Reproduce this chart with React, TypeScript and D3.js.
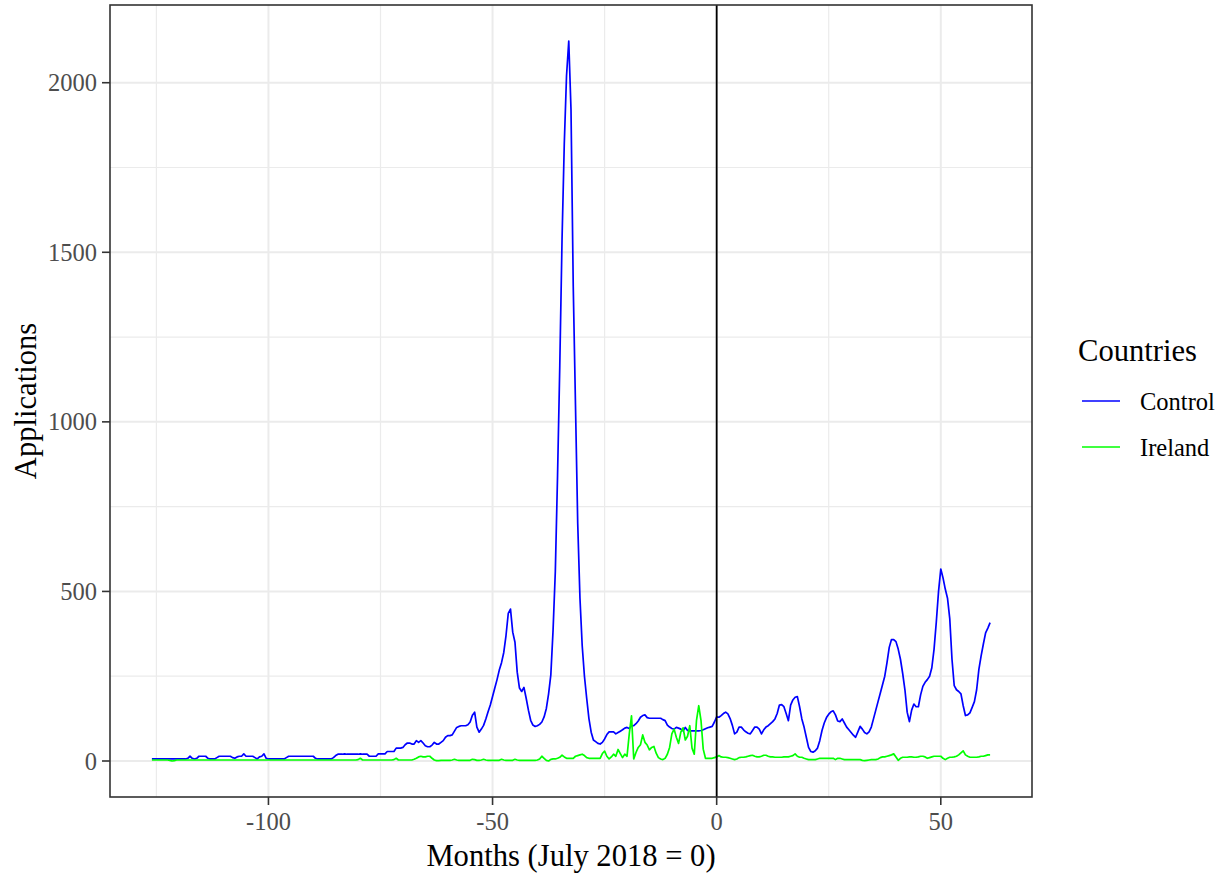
import React from "react";
import * as d3 from "d3";

// months run from -126 to 61 in half-month steps
const startMonth = -126;
const monthStep = 0.5;

const control = [
  6, 6, 6, 6, 6, 6, 6, 6, 6, 6, 6, 6, 6, 6, 6, 6, 8, 14, 8, 6,
  8, 14, 14, 14, 14, 8, 6, 6, 6, 10, 14, 14, 14, 14, 14, 14, 10, 8, 12, 14,
  14, 21, 14, 14, 14, 14, 10, 6, 12, 14, 21, 8, 6, 6, 6, 6, 6, 6, 6, 6,
  10, 14, 14, 14, 14, 14, 14, 14, 14, 14, 14, 14, 14, 8, 6, 6, 6, 6, 6, 6,
  6, 10, 16, 20, 20, 20, 21, 20, 20, 20, 20, 20, 20, 21, 20, 20, 20, 14, 14, 14,
  14, 21, 21, 21, 21, 28, 28, 28, 28, 38, 38, 38, 40, 48, 53, 53, 50, 50, 60, 55,
  60, 53, 45, 42, 42, 47, 55, 50, 50, 55, 60, 70, 75, 75, 77, 88, 99, 102, 104, 104,
  104, 107, 115, 135, 144, 100, 85, 94, 105, 124, 145, 165, 190, 215, 240, 268, 290, 320, 370, 435,
  448, 380, 350, 262, 215, 205, 217, 185, 150, 120, 106, 102, 104, 108, 115, 130, 155, 198, 254, 386,
  558, 842, 1167, 1537, 1819, 2020, 2123, 1921, 1400, 1050, 700, 480, 340, 250, 185, 125, 85, 62, 57, 52,
  50, 55, 65, 78, 86, 86, 86, 80, 84, 88, 92, 97, 99, 96, 104, 104, 110, 118, 129, 134,
  136, 128, 126, 126, 126, 126, 126, 126, 122, 119, 106, 100, 96, 94, 99, 97, 94, 89, 99, 90,
  89, 89, 89, 89, 89, 90, 92, 95, 98, 100, 102, 115, 130, 129, 134, 140, 144, 139, 125, 105,
  80, 85, 100, 100, 92, 86, 82, 80, 90, 100, 100, 94, 80, 92, 100, 104, 110, 116, 124, 140,
  165, 166, 160, 140, 119, 165, 180, 188, 190, 160, 124, 100, 70, 40, 28, 26, 30, 38, 60, 90,
  112, 128, 138, 145, 148, 136, 118, 116, 124, 112, 100, 92, 84, 76, 70, 86, 102, 94, 84, 80,
  86, 100, 125, 150, 175, 200, 225, 250, 290, 335, 358, 358, 352, 330, 300, 258, 210, 144, 116, 150,
  168, 160, 160, 195, 220, 232, 240, 250, 275, 330, 410, 500, 566, 540, 507, 480, 420, 300, 222, 210,
  205, 198, 163, 134, 136, 142, 158, 175, 210, 270, 310, 345, 378, 392, 408,
];

const ireland = [
  3, 3, 3, 3, 3, 3, 3, 3, 2, 0, 1, 3, 3, 3, 3, 3, 3, 3, 3, 3,
  3, 3, 3, 3, 3, 3, 3, 3, 3, 3, 3, 3, 3, 3, 3, 3, 3, 3, 3, 3,
  3, 3, 3, 3, 3, 3, 3, 3, 3, 3, 3, 3, 3, 3, 3, 3, 3, 3, 3, 3,
  3, 3, 3, 3, 3, 3, 3, 3, 3, 3, 3, 3, 3, 3, 3, 3, 3, 3, 3, 3,
  3, 3, 3, 3, 3, 3, 3, 3, 3, 3, 3, 3, 4, 8, 3, 3, 3, 3, 3, 3,
  3, 3, 3, 3, 3, 3, 3, 3, 4, 8, 3, 3, 3, 3, 3, 3, 3, 5, 8, 12,
  14, 12, 12, 14, 14, 8, 3, 1, 1, 2, 2, 2, 2, 2, 3, 5, 3, 2, 2, 2,
  2, 2, 2, 5, 4, 2, 2, 3, 5, 3, 2, 2, 2, 2, 2, 2, 5, 3, 2, 2,
  2, 2, 5, 3, 2, 2, 2, 2, 2, 2, 2, 2, 3, 6, 14, 8, 2, 0, 5, 6,
  6, 8, 11, 17, 12, 8, 8, 8, 8, 14, 16, 18, 20, 16, 10, 8, 8, 8, 8, 8,
  8, 22, 29, 14, 6, 12, 20, 14, 34, 22, 10, 20, 14, 80, 133, 6, 25, 40, 48, 77,
  55, 47, 33, 40, 43, 23, 10, 6, 4, 8, 20, 40, 80, 94, 70, 52, 85, 98, 62, 73,
  104, 38, 20, 120, 163, 120, 35, 8, 8, 8, 8, 10, 12, 16, 12, 11, 11, 10, 8, 6,
  4, 6, 10, 11, 11, 12, 14, 16, 17, 14, 12, 12, 14, 17, 17, 14, 12, 12, 11, 11,
  11, 11, 12, 12, 12, 14, 16, 21, 14, 11, 11, 8, 6, 4, 4, 4, 4, 6, 8, 8,
  8, 8, 8, 8, 8, 4, 8, 8, 6, 4, 4, 4, 4, 4, 4, 4, 4, 2, 1, 2,
  3, 4, 4, 4, 6, 10, 12, 12, 14, 16, 18, 21, 12, 2, 8, 11, 11, 11, 12, 12,
  11, 11, 12, 14, 14, 12, 8, 10, 12, 14, 14, 14, 14, 8, 4, 8, 11, 11, 12, 14,
  18, 24, 30, 18, 14, 11, 11, 11, 11, 12, 14, 14, 16, 18, 18,
];

const seriesNames = ["Control", "Ireland"];
const seriesColors = ["#0000FF", "#00FF00"];

const xMajor = [-100, -50, 0, 50];
const xMinor = [-125, -75, -25, 25];
const yMajor = [0, 500, 1000, 1500, 2000];
const yMinor = [250, 750, 1250, 1750];

const W = 1229;
const H = 874;
const panel = { left: 110, right: 1032, top: 5, bottom: 797 };
const font = "'Liberation Serif', 'Times New Roman', serif";

const months = control.map((_, i) => startMonth + i * monthStep);

export default function App() {
  const xExt = d3.extent(months) as [number, number];
  const xPad = (xExt[1] - xExt[0]) * 0.05;
  const x = d3
    .scaleLinear()
    .domain([xExt[0] - xPad, xExt[1] + xPad])
    .range([panel.left, panel.right]);

  const yMax = d3.max(control.concat(ireland)) as number;
  const yPad = yMax * 0.05;
  const y = d3
    .scaleLinear()
    .domain([-yPad, yMax + yPad])
    .range([panel.bottom, panel.top]);

  const line = d3
    .line<number>()
    .x((_, i) => x(months[i]))
    .y((d) => y(d));

  const series = [control, ireland];

  return (
    <svg
      width={W}
      height={H}
      style={{ position: "absolute", left: 0, top: 0, background: "#fff" }}
      fontFamily={font}
    >
      {/* minor grid */}
      {xMinor.map((v) => (
        <line key={"xm" + v} x1={x(v)} x2={x(v)} y1={panel.top} y2={panel.bottom} stroke="#EBEBEB" strokeWidth={1.2} />
      ))}
      {yMinor.map((v) => (
        <line key={"ym" + v} x1={panel.left} x2={panel.right} y1={y(v)} y2={y(v)} stroke="#EBEBEB" strokeWidth={1.2} />
      ))}
      {/* major grid */}
      {xMajor.map((v) => (
        <line key={"xM" + v} x1={x(v)} x2={x(v)} y1={panel.top} y2={panel.bottom} stroke="#EBEBEB" strokeWidth={2} />
      ))}
      {yMajor.map((v) => (
        <line key={"yM" + v} x1={panel.left} x2={panel.right} y1={y(v)} y2={y(v)} stroke="#EBEBEB" strokeWidth={2} />
      ))}

      {series.map((s, i) => (
        <path key={seriesNames[i]} d={line(s) || ""} fill="none" stroke={seriesColors[i]} strokeWidth={1.7} strokeLinejoin="round" />
      ))}

      {/* July 2018 marker */}
      <line x1={x(0)} x2={x(0)} y1={panel.top} y2={panel.bottom} stroke="#000" strokeWidth={1.8} />

      <rect
        x={panel.left}
        y={panel.top}
        width={panel.right - panel.left}
        height={panel.bottom - panel.top}
        fill="none"
        stroke="#333333"
        strokeWidth={1.6}
      />

      {/* axes */}
      {xMajor.map((v) => (
        <g key={"xt" + v}>
          <line x1={x(v)} x2={x(v)} y1={panel.bottom} y2={panel.bottom + 8} stroke="#333333" strokeWidth={1.6} />
          <text x={x(v)} y={830} textAnchor="middle" fontSize={24.5} fill="#4D4D4D">
            {v}
          </text>
        </g>
      ))}
      {yMajor.map((v) => (
        <g key={"yt" + v}>
          <line x1={panel.left - 8} x2={panel.left} y1={y(v)} y2={y(v)} stroke="#333333" strokeWidth={1.6} />
          <text x={97} y={y(v)} dy="0.35em" textAnchor="end" fontSize={24.5} fill="#4D4D4D">
            {v}
          </text>
        </g>
      ))}

      <text x={(panel.left + panel.right) / 2} y={866} textAnchor="middle" fontSize={30.6} fill="#000">
        Months (July 2018 = 0)
      </text>
      <text
        transform={`translate(36, ${(panel.top + panel.bottom) / 2}) rotate(-90)`}
        textAnchor="middle"
        fontSize={30.6}
        fill="#000"
      >
        Applications
      </text>

      {/* legend */}
      <text x={1078} y={361} fontSize={30.6} fill="#000">
        Countries
      </text>
      {seriesNames.map((name, i) => (
        <g key={"lg" + name} transform={`translate(0, ${401 + i * 46})`}>
          <line x1={1082} x2={1120} y1={0} y2={0} stroke={seriesColors[i]} strokeWidth={1.7} />
          <text x={1140} y={0} dy="0.35em" fontSize={24.5} fill="#000">
            {name}
          </text>
        </g>
      ))}
    </svg>
  );
}
